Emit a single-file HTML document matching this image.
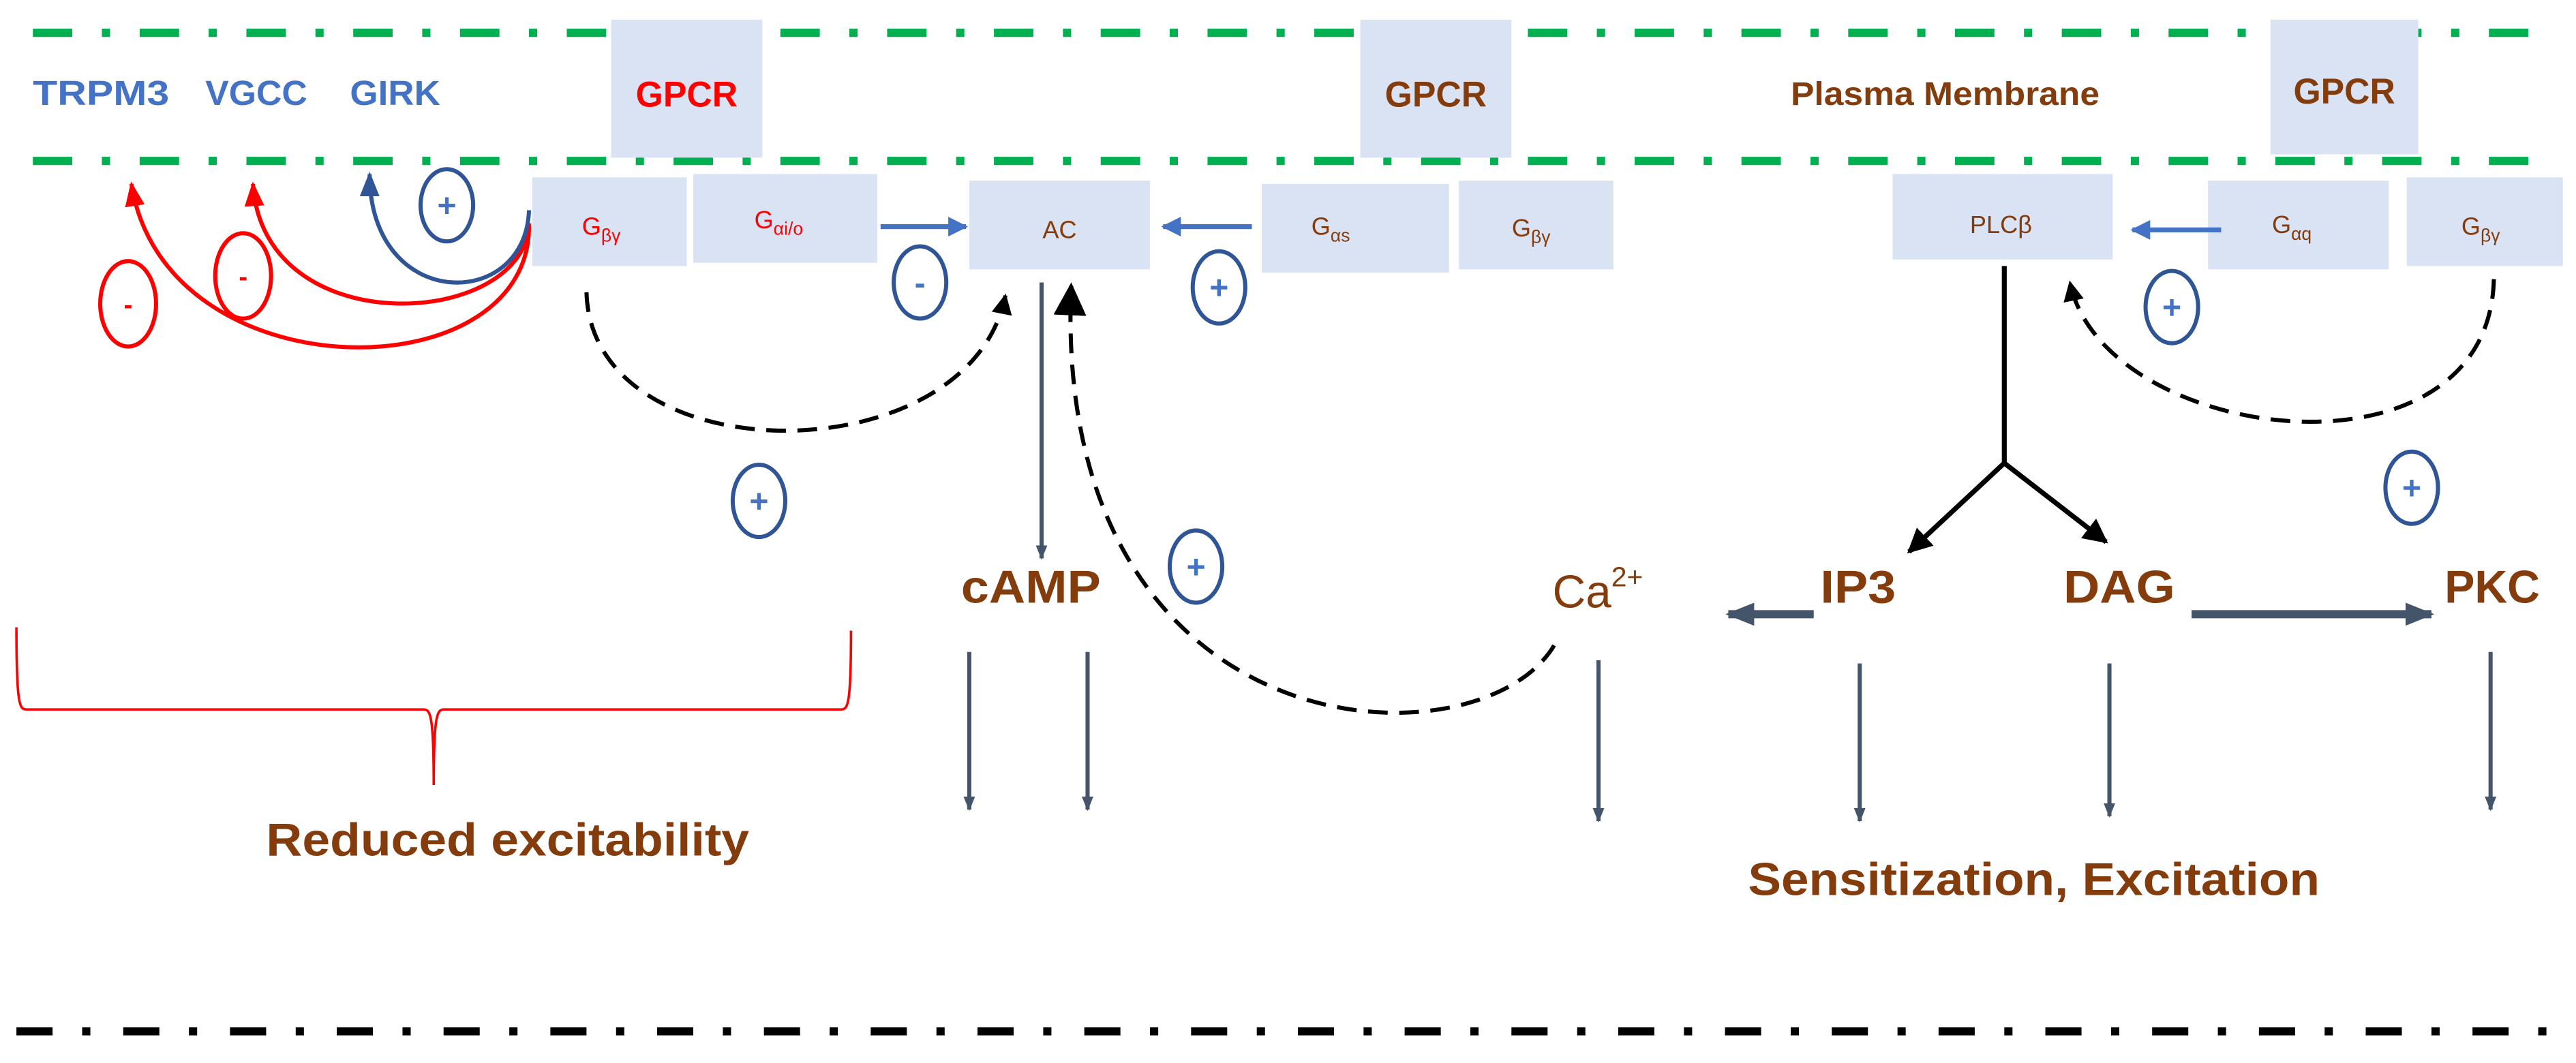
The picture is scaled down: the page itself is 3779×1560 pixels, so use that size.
<!DOCTYPE html>
<html><head><meta charset="utf-8"><style>html,body{margin:0;padding:0;background:#fff}svg{display:block}</style></head>
<body>
<svg width="3779" height="1560" viewBox="0 0 1568 647.3" preserveAspectRatio="none" xmlns="http://www.w3.org/2000/svg" font-family="'Liberation Sans', sans-serif" font-weight="bold">
<defs>
<marker id="ab" viewBox="0 0 10 10" refX="9" refY="5" markerWidth="4" markerHeight="4" orient="auto"><path d="M0,0L10,5L0,10z" fill="#4472c4"/></marker>
<marker id="ag2" viewBox="0 0 10 10" refX="9" refY="5" markerWidth="3.5" markerHeight="3.5" orient="auto"><path d="M0,1L10,5L0,9z" fill="#44546a"/></marker>
<marker id="ak" viewBox="0 0 10 10" refX="9" refY="5" markerWidth="5" markerHeight="5" orient="auto"><path d="M0,0L10,5L0,10z" fill="#000"/></marker>
<marker id="ak2" viewBox="0 0 10 10" refX="9" refY="5" markerWidth="8" markerHeight="8" orient="auto"><path d="M0,0L10,5L0,10z" fill="#000"/></marker>
<marker id="ar" viewBox="0 0 10 10" refX="9" refY="5" markerWidth="6" markerHeight="6" orient="auto"><path d="M0,1L10,5L0,9z" fill="#f00"/></marker>
<marker id="abl" viewBox="0 0 10 10" refX="9" refY="5" markerWidth="6" markerHeight="6" orient="auto"><path d="M0,1L10,5L0,9z" fill="#2f5597"/></marker>
</defs>
<line x1="20" y1="20" x2="1550" y2="20" stroke="#00b050" stroke-width="5" stroke-dasharray="24 18 5 18"/>
<line x1="20" y1="98" x2="1550" y2="98" stroke="#00b050" stroke-width="5" stroke-dasharray="24 18 5 18"/>
<line x1="10" y1="628" x2="1550" y2="628" stroke="#000" stroke-width="5" stroke-dasharray="22 18 5 20"/>
<g fill="#dae3f3">
<rect x="372" y="12" width="92" height="84"/>
<rect x="828" y="12" width="92" height="84"/>
<rect x="1382" y="12" width="90" height="82"/>
<rect x="324" y="108" width="94" height="54"/>
<rect x="422" y="106" width="112" height="54"/>
<rect x="590" y="110" width="110" height="54"/>
<rect x="768" y="112" width="114" height="54"/>
<rect x="888" y="110" width="94" height="54"/>
<rect x="1152" y="106" width="134" height="52"/>
<rect x="1344" y="110" width="110" height="54"/>
<rect x="1465" y="108" width="95" height="54"/>
</g>
<g font-size="22" text-anchor="middle">
<text x="418" y="65" fill="#f00" textLength="62" lengthAdjust="spacingAndGlyphs">GPCR</text>
<text x="874" y="65" fill="#843c0c" textLength="62" lengthAdjust="spacingAndGlyphs">GPCR</text>
<text x="1427" y="63" fill="#843c0c" textLength="62" lengthAdjust="spacingAndGlyphs">GPCR</text>
<text x="1184" y="64" fill="#843c0c" font-size="20" textLength="188" lengthAdjust="spacingAndGlyphs">Plasma Membrane</text>
</g>
<g font-size="21" fill="#4472c4">
<text x="20" y="64" textLength="83" lengthAdjust="spacingAndGlyphs">TRPM3</text><text x="125" y="64" textLength="62" lengthAdjust="spacingAndGlyphs">VGCC</text><text x="213" y="64" textLength="55" lengthAdjust="spacingAndGlyphs">GIRK</text>
</g>
<g font-size="15" text-anchor="middle" font-weight="normal">
<text x="366" y="143" fill="#f00">G<tspan font-size="11" dy="4">βγ</tspan></text>
<text x="474" y="139" fill="#f00">G<tspan font-size="11" dy="4">αi/o</tspan></text>
<text x="645" y="145" fill="#843c0c">AC</text>
<text x="810" y="143" fill="#843c0c">G<tspan font-size="11" dy="4">αs</tspan></text>
<text x="932" y="144" fill="#843c0c">G<tspan font-size="11" dy="4">βγ</tspan></text>
<text x="1218" y="142" fill="#843c0c">PLCβ</text>
<text x="1395" y="142" fill="#843c0c">G<tspan font-size="11" dy="4">αq</tspan></text>
<text x="1510" y="143" fill="#843c0c">G<tspan font-size="11" dy="4">βγ</tspan></text>
</g>
<g stroke="#4472c4" stroke-width="3" fill="none">
<line x1="536" y1="138" x2="588" y2="138" marker-end="url(#ab)"/>
<line x1="762" y1="138" x2="708" y2="138" marker-end="url(#ab)"/>
<line x1="1352" y1="140" x2="1298" y2="140" marker-end="url(#ab)"/>
</g>
<g stroke="#f00" stroke-width="2.5" fill="none">
<path d="M322,138 C322,240 100,240 80,112" marker-end="url(#ar)"/>
<path d="M322,136 C320,200 160,210 154,112" marker-end="url(#ar)"/>
<ellipse cx="78" cy="185" rx="17" ry="26"/>
<ellipse cx="148" cy="168" rx="17" ry="26"/>
</g>
<g fill="#f00" font-size="16" text-anchor="middle"><text x="78" y="191">-</text><text x="148" y="174">-</text></g>
<path d="M322,128 C320,190 225,190 225,106" stroke="#2f5597" stroke-width="2.5" fill="none" marker-end="url(#abl)"/>
<g stroke="#2f5597" stroke-width="2.5" fill="none">
<ellipse cx="272" cy="125" rx="16" ry="22"/>
<ellipse cx="560" cy="172" rx="16" ry="22"/>
<ellipse cx="742" cy="175" rx="16" ry="22"/>
<ellipse cx="462" cy="305" rx="16" ry="22"/>
<ellipse cx="728" cy="345" rx="16" ry="22"/>
<ellipse cx="1322" cy="187" rx="16" ry="22"/>
<ellipse cx="1468" cy="297" rx="16" ry="22"/>
</g>
<g fill="#4472c4" font-size="20" text-anchor="middle">
<text x="272" y="132">+</text><text x="560" y="179">-</text><text x="742" y="182">+</text><text x="462" y="312">+</text><text x="728" y="352">+</text><text x="1322" y="194">+</text><text x="1468" y="304">+</text>
</g>
<g stroke="#000" stroke-width="2.5" fill="none" stroke-dasharray="12 7">
<path d="M357,178 C360,290 590,290 612,180" marker-end="url(#ak)"/>
<path d="M946,393 C900,470 640,460 652,174" marker-end="url(#ak2)"/>
<path d="M1518,170 C1515,300 1280,270 1260,172" marker-end="url(#ak)"/>
</g>
<line x1="634" y1="172" x2="634" y2="340" stroke="#44546a" stroke-width="2.5" marker-end="url(#ag2)"/>
<g stroke="#000" stroke-width="3" fill="none">
<line x1="1220" y1="162" x2="1220" y2="282"/>
<line x1="1220" y1="282" x2="1162" y2="336" marker-end="url(#ak)"/>
<line x1="1220" y1="282" x2="1282" y2="330" marker-end="url(#ak)"/>
</g>
<g fill="#843c0c" font-size="28">
<text x="585" y="367" textLength="85" lengthAdjust="spacingAndGlyphs">cAMP</text>
<text x="945" y="370" font-weight="normal">Ca<tspan font-size="17" dy="-13">2+</tspan></text>
<text x="1108" y="367" textLength="46" lengthAdjust="spacingAndGlyphs">IP3</text>
<text x="1256" y="367" textLength="68" lengthAdjust="spacingAndGlyphs">DAG</text>
<text x="1488" y="367" textLength="58" lengthAdjust="spacingAndGlyphs">PKC</text>
<text x="162" y="521" font-size="28" textLength="294" lengthAdjust="spacingAndGlyphs">Reduced excitability</text>
<text x="1064" y="545" font-size="28" textLength="348" lengthAdjust="spacingAndGlyphs">Sensitization, Excitation</text>
</g>
<g stroke="#44546a" stroke-width="5" fill="none">
<line x1="1104" y1="374" x2="1052" y2="374" marker-end="url(#ag2)"/>
<line x1="1334" y1="374" x2="1480" y2="374" marker-end="url(#ag2)"/>
</g>
<g stroke="#44546a" stroke-width="2.5" marker-end="url(#ag2)">
<line x1="590" y1="397" x2="590" y2="493"/>
<line x1="662" y1="397" x2="662" y2="493"/>
<line x1="973" y1="402" x2="973" y2="500"/>
<line x1="1132" y1="404" x2="1132" y2="500"/>
<line x1="1284" y1="404" x2="1284" y2="497"/>
<line x1="1516" y1="397" x2="1516" y2="493"/>
</g>
<path d="M10,382 C10,430 12,432 16,432 L258,432 C262,432 264,436 264,478 C264,436 266,432 270,432 L512,432 C516,432 518,430 518,384" stroke="#f00" stroke-width="1.5" fill="none"/>
</svg>
</body></html>
